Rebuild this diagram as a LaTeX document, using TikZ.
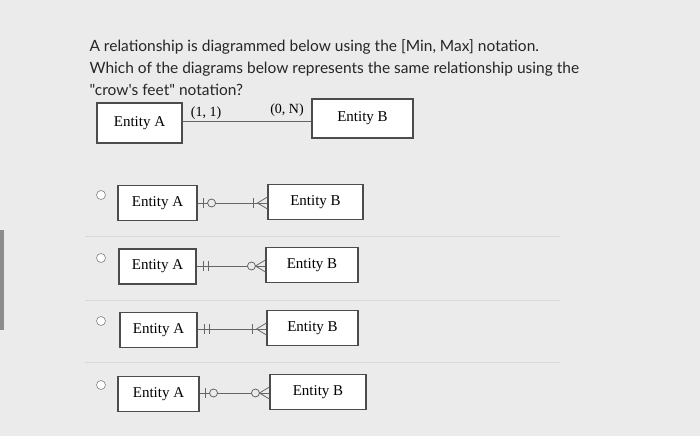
\documentclass[tikz,border=0pt]{standalone}
\usepackage{fontspec}
\setmainfont{Liberation Serif}
\newfontfamily\qfont{Lato}
\begin{document}
\begin{tikzpicture}[x=1pt,y=-1pt,
 ent/.style={draw=black!70,line width=1.1pt,fill=white,font=\fontsize{15}{17}\selectfont,inner sep=0pt},
 ln/.style={draw=black!60,line width=0.8pt},
 radio/.style={circle,draw=black!50,fill=white,minimum size=9pt,inner sep=0pt,line width=0.6pt}]
\fill[black!8] (0,0) rectangle (700,436);
\fill[black!45] (0,230) rectangle (4,330);
\foreach \y in {236,300,362} \draw[black!15,line width=0.6pt] (85,\y) -- (560,\y);
\node[anchor=north west,font=\qfont\fontsize{15.5}{22}\selectfont,align=left,text=black!85] (q) at (86,36)
 {A relationship is diagrammed below using the [Min, Max] notation.\\Which of the diagrams below represents the same relationship using the\\"crow's feet" notation?};
% top
\node[ent,minimum width=85pt,minimum height=40pt] (A0) at (139.5,123) {Entity A};
\node[ent,minimum width=101pt,minimum height=39pt] (B0) at (362.5,118.5) {Entity B};
\draw[ln] (A0.east |- 0,121) coordinate (a0) -- (B0.west |- 0,121) coordinate (b0);
\node[font=\fontsize{14}{16}\selectfont] (l1) at (206,113) {(1, 1)};
\node[font=\fontsize{14}{16}\selectfont] (l2) at (287,110) {(0, N)};
% options
\foreach \i/\ax/\aw/\ay/\bx/\bw/\by/\ly in {
 1/157.5/79/203/315.5/95/202/203,
 2/157.5/77/266.5/312/92/265/266,
 3/158.5/77/330/312.5/91/328/329,
 4/158.5/81/394/318/96/392/393}{
 \node[radio] (r\i) at (101,\ly-8) {};
 \node[ent,minimum width=\aw pt,minimum height=35pt] (A\i) at (\ax,\ay) {Entity A};
 \node[ent,minimum width=\bw pt,minimum height=35pt] (B\i) at (\bx,\by) {Entity B};
 \draw[ln] (A\i.east |- 0,\ly) coordinate (a\i) -- (B\i.west |- 0,\ly) coordinate (b\i);
}
\tikzset{bar/.style={ln}, circ/.style={ln,fill=black!8}}
% option 1: |O ... |<
\draw[bar] ([xshift=6]a1) ++(0,-5) -- ++(0,10);
\draw[circ] ([xshift=14]a1) circle (4);
\draw[bar] ([xshift=-14]b1) ++(0,-5) -- ++(0,10);
\draw[ln] ([xshift=-10]b1) -- ([yshift=-6]b1) ([xshift=-10]b1) -- ([yshift=6]b1);
% option 2: || ... O<
\draw[bar] ([xshift=7]a2) ++(0,-5) -- ++(0,10);
\draw[bar] ([xshift=12]a2) ++(0,-5) -- ++(0,10);
\draw[ln] ([xshift=-10]b2) -- ([yshift=-6]b2) ([xshift=-10]b2) -- ([yshift=6]b2);
\draw[circ] ([xshift=-14]b2) circle (4);
% option 3: || ... |<
\draw[bar] ([xshift=7]a3) ++(0,-5) -- ++(0,10);
\draw[bar] ([xshift=12]a3) ++(0,-5) -- ++(0,10);
\draw[bar] ([xshift=-14]b3) ++(0,-5) -- ++(0,10);
\draw[ln] ([xshift=-10]b3) -- ([yshift=-6]b3) ([xshift=-10]b3) -- ([yshift=6]b3);
% option 4: |O ... O<
\draw[bar] ([xshift=6]a4) ++(0,-5) -- ++(0,10);
\draw[circ] ([xshift=14]a4) circle (4);
\draw[ln] ([xshift=-10]b4) -- ([yshift=-6]b4) ([xshift=-10]b4) -- ([yshift=6]b4);
\draw[circ] ([xshift=-14]b4) circle (4);
\useasboundingbox (0,0) rectangle (700,436);
\end{tikzpicture}
\end{document}
